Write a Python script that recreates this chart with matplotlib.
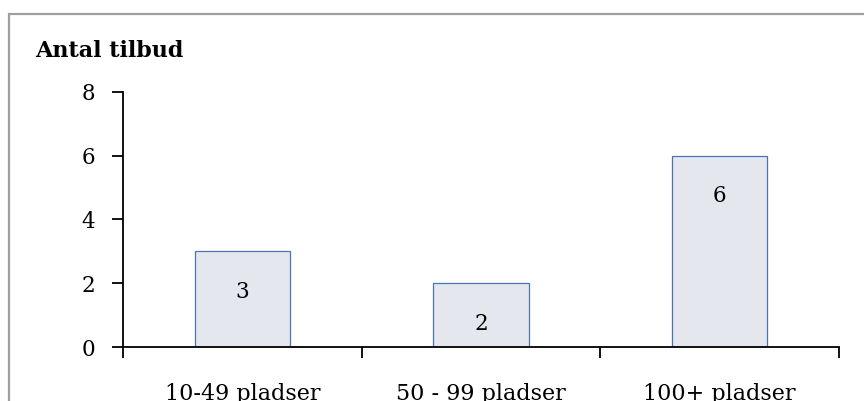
import numpy as np
import matplotlib.pyplot as plt
from matplotlib.patches import Rectangle

categories = ['10-49 pladser', '50 - 99 pladser', '100+ pladser']
values = [3, 2, 6]
yticks = [0, 2, 4, 6, 8]

plt.rcParams['font.family'] = ['DejaVu Serif']

fig = plt.figure(figsize=(8.64, 4.01), dpi=100)
W, H = 864, 401

# grey frame round the chart (runs off right and bottom)
fig.patches.append(Rectangle((8.5 / W, -0.1), 1.2, (H - 13.5) / H + 0.1,
                             transform=fig.transFigure, fill=False,
                             edgecolor='#a0a0a0', linewidth=1.6))

ax = fig.add_axes([123 / W, (H - 347) / H, (839 - 123) / W, (347 - 92) / H])
x = np.arange(len(categories))
bars = ax.bar(x, values, width=0.4, color='#e4e8ee', edgecolor='#4a74b4', linewidth=0.9)

for xi, v in zip(x, values):
    ax.annotate(str(v), (xi, v), xytext=(0, -29), textcoords='offset points',
                ha='center', va='center', fontsize=15.5)

ax.set_xlim(-0.5, 2.5)
ax.set_ylim(0, 8)
ax.set_yticks(yticks)
ax.set_xticks(x)
ax.set_xticklabels(categories)
ax.set_xticks([-0.5, 0.5, 1.5, 2.5], minor=True)
ax.tick_params(axis='x', which='major', length=0, pad=26, labelsize=16)
ax.tick_params(axis='x', which='minor', length=8, width=1.3, direction='out')
ax.tick_params(axis='y', length=8, width=1.3, direction='out', pad=12, labelsize=15.5)

for s in ['top', 'right']:
    ax.spines[s].set_visible(False)
for s in ['left', 'bottom']:
    ax.spines[s].set_linewidth(1.3)

fig.text(35 / W, 1 - 51 / H, 'Antal tilbud', fontsize=16, fontweight='bold',
         ha='left', va='center')

fig.savefig('out.png', dpi=100)
